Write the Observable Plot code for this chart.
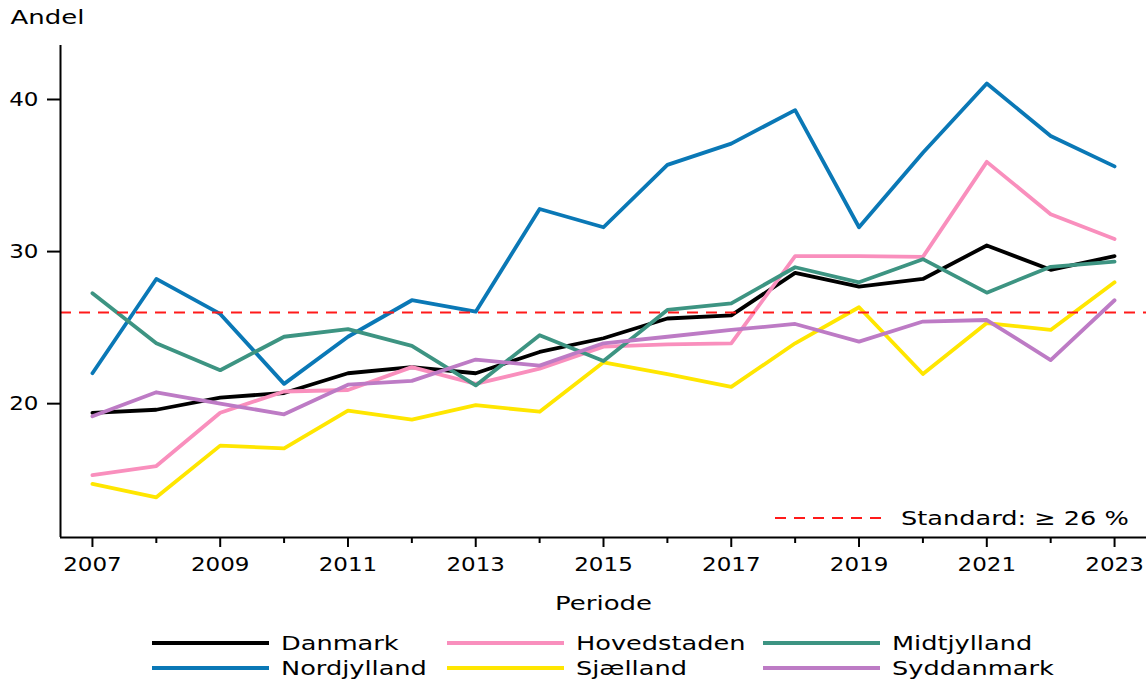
<!DOCTYPE html>
<html>
<head>
<meta charset="utf-8">
<script src="https://cdn.jsdelivr.net/npm/d3@7"></script>
<script src="https://cdn.jsdelivr.net/npm/@observablehq/plot@0.6"></script>
<style>
  body { margin: 0; background: #fff; font-family: "DejaVu Sans", sans-serif; }
  #wrap { position: relative; width: 1146px; height: 681px; overflow: hidden; }
  #legend { position: absolute; left: 0; top: 620px; width: 1146px; height: 61px; }
  .item { position: absolute; display: flex; align-items: center; height: 24px; }
  .item svg { display: block; }
  .item span, #std span { display: inline-block; font-size: 20px; color: #000; transform: scaleX(1.28); transform-origin: left center; white-space: nowrap; }
  #std { position: absolute; display: flex; align-items: center; height: 24px; }
</style>
</head>
<body>
<div id="wrap"></div>
<script>
const years = [2007, 2008, 2009, 2010, 2011, 2012, 2013, 2014, 2015, 2016, 2017, 2018, 2019, 2020, 2021, 2022, 2023];

const danmark     = [19.4, 19.6, 20.4, 20.7, 22.0, 22.4, 22.0, 23.4, 24.3, 25.6, 25.8, 28.6, 27.7, 28.2, 30.4, 28.8, 29.7];
const nordjylland = [22.0, 28.2, 25.9, 21.3, 24.4, 26.8, 26.05, 32.8, 31.6, 35.7, 37.1, 39.3, 31.6, 36.5, 41.05, 37.6, 35.6];
const hovedstaden = [15.3, 15.9, 19.4, 20.8, 20.9, 22.4, 21.3, 22.3, 23.75, 23.9, 23.97, 29.7, 29.7, 29.65, 35.9, 32.46, 30.83];
const sjaelland   = [14.72, 13.84, 17.24, 17.06, 19.54, 18.95, 19.9, 19.47, 22.72, 21.95, 21.1, 23.97, 26.34, 21.95, 25.3, 24.85, 27.98];
const midtjylland = [27.26, 23.97, 22.2, 24.4, 24.9, 23.8, 21.2, 24.5, 22.8, 26.16, 26.6, 28.97, 27.98, 29.5, 27.3, 29.0, 29.34];
const syddanmark  = [19.17, 20.75, 20.0, 19.3, 21.25, 21.5, 22.9, 22.5, 23.97, 24.4, 24.85, 25.24, 24.08, 25.4, 25.5, 22.87, 26.8];

const seriesNames  = ["Danmark", "Nordjylland", "Hovedstaden", "Sjælland", "Midtjylland", "Syddanmark"];
const seriesValues = [danmark, nordjylland, hovedstaden, sjaelland, midtjylland, syddanmark];
const seriesColors = ["#000000", "#0a78b6", "#f98fbd", "#ffe600", "#3d9482", "#bd7bc5"];

const standardValue = 26;
const standardLabel = "Standard: ≥ 26 %";
const yTicks = [20, 30, 40];
const xMajorTicks = [2007, 2009, 2011, 2013, 2015, 2017, 2019, 2021, 2023];
const xMinorTicks = [2008, 2010, 2012, 2014, 2016, 2018, 2020, 2022];
const xDomain = [2006.5, 2023.5];
const yDomain = [11.2, 43.55];
const yLabel = "Andel";
const xLabel = "Periode";

const rows = [];
seriesNames.forEach((name, s) => {
  years.forEach((yr, i) => rows.push({ year: yr, value: seriesValues[s][i], region: name }));
});

const plot = Plot.plot({
  width: 1146,
  height: 620,
  marginLeft: 60,
  marginRight: 0,
  marginTop: 45,
  marginBottom: 83,
  style: { fontFamily: "DejaVu Sans", fontSize: "20px", color: "#000", background: "#fff", overflow: "visible" },
  x: { domain: xDomain },
  y: { domain: yDomain },
  color: { domain: seriesNames, range: seriesColors },
  marks: [
    Plot.lineY(rows, { x: "year", y: "value", stroke: "region", strokeWidth: 3.8 }),
    Plot.ruleY([standardValue], { stroke: "#ff1a1a", strokeWidth: 2, strokeDasharray: "11,8" }),
    Plot.ruleX([xDomain[0]], { stroke: "#000", strokeWidth: 2 }),
    Plot.ruleY([yDomain[0]], { stroke: "#000", strokeWidth: 2 }),
    Plot.axisY({ ticks: yTicks, tickSize: 13, tickPadding: 9, label: null, strokeWidth: 2, fontSize: 20 }),
    Plot.axisX({ ticks: xMajorTicks, tickSize: 10, tickPadding: 9, tickFormat: d => String(d), label: null, strokeWidth: 2, fontSize: 20 }),
    Plot.axisX({ ticks: xMinorTicks, tickSize: 6, text: null, label: null, strokeWidth: 2 }),
    Plot.text([yLabel], { frameAnchor: "top-left", dx: -50, dy: -28, textAnchor: "start", lineAnchor: "middle", fontSize: 20, fill: "#000" }),
    Plot.text([xLabel], { frameAnchor: "bottom", dy: 66, textAnchor: "middle", lineAnchor: "middle", fontSize: 20, fill: "#000" })
  ]
});

// horizontal widening of the glyphs to match the reference rendering
d3.select(plot).selectAll("text").each(function () {
  const g = this.closest("g");
  const label = g ? (g.getAttribute("aria-label") || "") : "";
  const k = label.includes("tick label") ? 1.15 : 1.3;
  const t = this.getAttribute("transform") || "";
  this.setAttribute("transform", (t + ` scale(${k},1)`).trim());
});

const wrap = document.getElementById("wrap");
wrap.appendChild(plot);

// in-plot legend for the standard line
const std = document.createElement("div");
std.id = "std";
std.style.left = "775px";
std.style.top = "506px";
std.innerHTML = `<svg width="112" height="24"><line x1="0" x2="112" y1="12" y2="12" stroke="#ff1a1a" stroke-width="2" stroke-dasharray="11,8"/></svg><span style="margin-left:14px">${standardLabel}</span>`;
wrap.appendChild(std);

// series legend below the chart (column-major, 3 columns x 2 rows)
const legend = document.createElement("div");
legend.id = "legend";
const colLeft = [152, 447, 763];
const rowTop = [11, 36];
seriesNames.forEach((name, s) => {
  const col = Math.floor(s / 2), row = s % 2;
  const it = document.createElement("div");
  it.className = "item";
  it.style.left = colLeft[col] + "px";
  it.style.top = rowTop[row] + "px";
  it.innerHTML = `<svg width="117" height="24"><line x1="0" x2="117" y1="12" y2="12" stroke="${seriesColors[s]}" stroke-width="3.8"/></svg><span style="margin-left:12px">${name}</span>`;
  legend.appendChild(it);
});
wrap.appendChild(legend);
</script>
</body>
</html>
